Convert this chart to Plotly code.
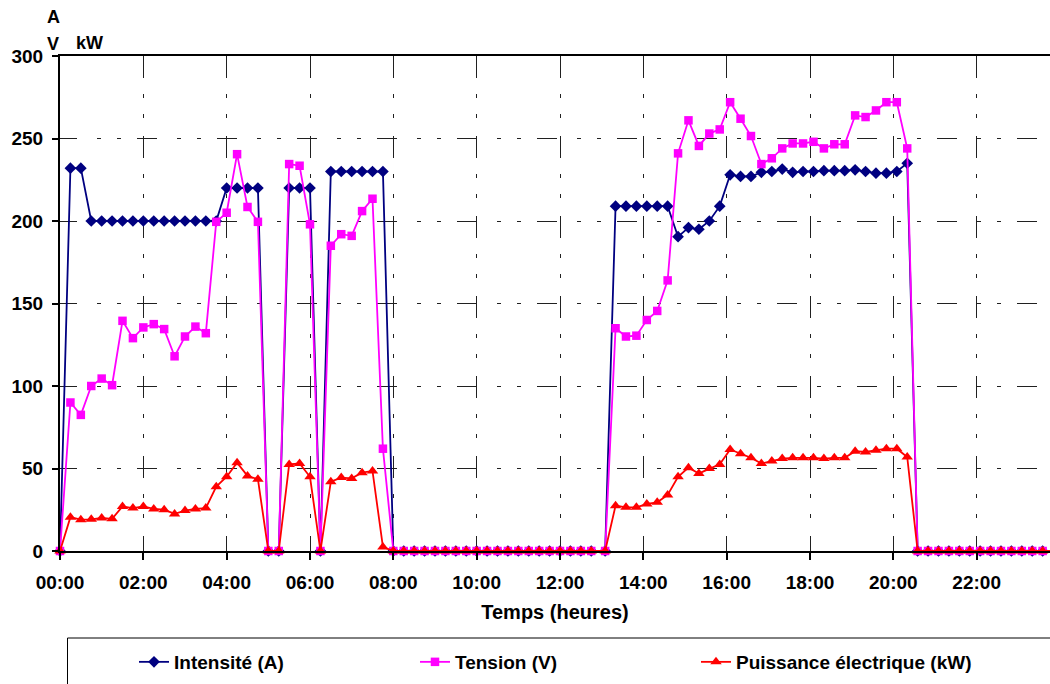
import plotly.graph_objects as go

# Time stamps (HH:MM) of the measurements
TIMES_MORNING = [
    "00:00", "00:15", "00:30", "00:45", "01:00", "01:15", "01:30", "01:45",
    "02:00", "02:15", "02:30", "02:45", "03:00", "03:15", "03:30", "03:45",
    "04:00", "04:15", "04:30", "04:45", "05:00", "05:15", "05:30", "05:45",
    "06:00", "06:15", "06:30", "06:45", "07:00", "07:15", "07:30", "07:45",
    "08:00", "08:15", "08:30", "08:45", "09:00", "09:15", "09:30", "09:45",
    "10:00", "10:15", "10:30", "10:45", "11:00", "11:15", "11:30", "11:45",
    "12:00", "12:15", "12:30", "12:45",
]
TIMES_AFTERNOON = [
    "13:05", "13:20", "13:35", "13:50", "14:05", "14:20", "14:35", "14:50",
    "15:05", "15:20", "15:35", "15:50", "16:05", "16:20", "16:35", "16:50",
    "17:05", "17:20", "17:35", "17:50", "18:05", "18:20", "18:35", "18:50",
    "19:05", "19:20", "19:35", "19:50", "20:05", "20:20", "20:35", "20:50",
    "21:05", "21:20", "21:35", "21:50", "22:05", "22:20", "22:35", "22:50",
    "23:05", "23:20", "23:35", "23:50",
]

intensite = [
    0, 232, 232, 200, 200, 200, 200, 200, 200, 200, 200, 200, 200, 200, 200, 200,
    220, 220, 220, 220, 0, 0, 220, 220, 220, 0, 230, 230, 230, 230, 230, 230,
    0, 0, 0, 0, 0, 0, 0, 0, 0, 0, 0, 0, 0, 0, 0, 0,
    0, 0, 0, 0,
    0, 209, 209, 209, 209, 209, 209, 190.5, 196, 195, 200, 209, 228, 227, 227, 229.5,
    230, 231.5, 229.5, 230, 230, 230.5, 230.5, 230.5, 231, 230, 229, 229, 230, 235, 0, 0,
    0, 0, 0, 0, 0, 0, 0, 0, 0, 0, 0, 0,
]
tension = [
    0, 90, 82.5, 100, 104.5, 100.5, 139.5, 129, 135.5, 137.5, 134.5, 118, 130, 136, 132, 199.5,
    205, 240.5, 208.5, 199.5, 0, 0, 234.5, 233.5, 198, 0, 185, 192, 191, 206, 213.5, 62,
    0, 0, 0, 0, 0, 0, 0, 0, 0, 0, 0, 0, 0, 0, 0, 0,
    0, 0, 0, 0,
    0, 135, 130, 130.5, 140, 145.5, 164, 241, 261, 245.5, 253, 255.5, 272, 262, 251.5, 234.5,
    238, 244, 247, 247, 248, 244, 246.5, 246.5, 264, 263, 267, 272, 272, 244, 0, 0,
    0, 0, 0, 0, 0, 0, 0, 0, 0, 0, 0, 0,
]
puissance = [
    0, 20.5, 19, 19.2, 20, 19.5, 27, 26, 27, 25.5, 25, 22.5, 24.5, 25.5, 26, 39,
    45, 53.5, 45.5, 43.5, 0, 0, 52.5, 53, 45, 0, 42, 44.5, 44, 47.5, 48.5, 2.5,
    0, 0, 0, 0, 0, 0, 0, 0, 0, 0, 0, 0, 0, 0, 0, 0,
    0, 0, 0, 0,
    0, 27.5, 26.5, 26.5, 28.5, 29.5, 34, 45, 50.5, 47, 50, 52.5, 61.5, 59, 56.5, 53,
    54.5, 56, 56.5, 56.5, 56.5, 56, 56.5, 56.5, 60.5, 60, 61, 62, 62, 57, 0, 0,
    0, 0, 0, 0, 0, 0, 0, 0, 0, 0, 0, 0,
]

Y_TICKS = [0, 50, 100, 150, 200, 250, 300]
X_TICK_HOURS = ["00:00", "02:00", "04:00", "06:00", "08:00", "10:00",
                "12:00", "14:00", "16:00", "18:00", "20:00", "22:00"]

DAY = "2024-01-01 "
x = [DAY + t for t in TIMES_MORNING + TIMES_AFTERNOON]

FONT = "Arial, Liberation Sans, sans-serif"

W, H = 1050, 684
ML, MT, MB = 60, 56, 133
PW = W - ML
PH = H - MT - MB


def px_x(p):
    return (p - ML) / PW


def px_y(p):
    return (H - MB - p) / PH


fig = go.Figure()
series = [
    ("Intensité (A)", intensite, "#000080", "diamond", 9),
    ("Tension (V)", tension, "#FF00FF", "square", 8.5),
    ("Puissance électrique (kW)", puissance, "#FF0000", "triangle-up", 10),
]
for name, vals, col, sym, size in series:
    fig.add_trace(go.Scatter(
        x=x, y=vals, name=name, mode="lines+markers",
        line=dict(color=col, width=1.8),
        marker=dict(color=col, symbol=sym, size=size, line=dict(width=0)),
        cliponaxis=False,
    ))

fig.update_layout(
    width=W, height=H,
    margin=dict(l=ML, r=0, t=MT, b=MB, pad=0),
    paper_bgcolor="white", plot_bgcolor="white",
    font=dict(family=FONT, color="black", size=18, weight="bold"),
    showlegend=True,
    legend=dict(
        orientation="h", xref="container", yref="container",
        x=134 / W, y=1 - 643 / H, xanchor="left", yanchor="top",
        font=dict(family=FONT, size=19, color="black", weight="bold"),
        entrywidth=236, borderwidth=0, bgcolor="rgba(0,0,0,0)",
        itemclick=False,
    ),
)

fig.update_xaxes(
    type="date",
    range=[DAY + "00:00", DAY + "23:45:36"],
    tickvals=[DAY + t for t in X_TICK_HOURS],
    ticktext=X_TICK_HOURS,
    ticks="outside", ticklen=7, tickwidth=1.5, tickcolor="black",
    showline=True, linecolor="black", linewidth=2, mirror=True,
    showgrid=True, gridcolor="#202020", gridwidth=1,
    griddash="22px,16px,4px,16px,4px,18px",
    zeroline=False,
    tickfont=dict(family=FONT, size=19, weight="bold"),
    ticklabelstandoff=6,
    title=dict(text="Temps (heures)", standoff=13,
               font=dict(family=FONT, size=20, weight="bold")),
)
fig.update_yaxes(
    range=[0, 300], tickvals=Y_TICKS,
    ticks="outside", ticklen=6, tickwidth=1.5, tickcolor="black",
    showline=True, linecolor="black", linewidth=2, mirror=False,
    showgrid=True, gridcolor="#202020", gridwidth=1,
    griddash="17px,20px,4px,16px,4px,16px,3px,0px",
    zeroline=False,
    tickfont=dict(family=FONT, size=19, weight="bold"),
    ticklabelstandoff=5,
)

# unit labels above the y axis
for txt, cx, cy in [("A", 53, 17), ("V", 52.5, 44), ("kW", 89.5, 43)]:
    fig.add_annotation(text=txt, x=px_x(cx), y=px_y(cy), xref="paper", yref="paper",
                       showarrow=False, xanchor="center", yanchor="middle",
                       font=dict(family=FONT, size=18, weight="bold", color="black"))

# legend frame
fig.add_shape(type="rect", xref="paper", yref="paper",
              x0=px_x(67.5), x1=px_x(1062), y0=px_y(638), y1=px_y(700),
              line=dict(color="black", width=1), fillcolor="rgba(0,0,0,0)", layer="above")

fig.write_html("out.html")
